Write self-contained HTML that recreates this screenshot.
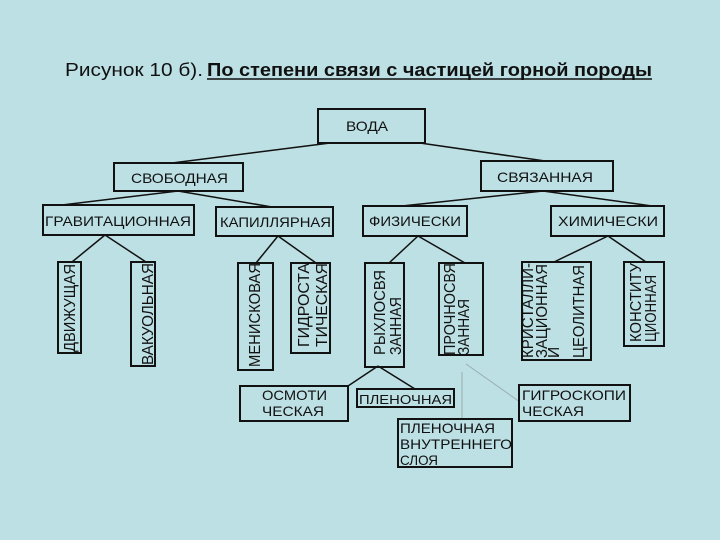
<!DOCTYPE html>
<html><head><meta charset="utf-8"><style>
html,body{margin:0;padding:0;background:#bde0e4;}
svg{display:block;}
text{font-family:"Liberation Sans",sans-serif;fill:#111;}
</style></head><body>
<svg width="720" height="540" viewBox="0 0 720 540" xmlns="http://www.w3.org/2000/svg">
<rect width="720" height="540" fill="#bde0e4"/>
<text x="65" y="76" font-size="18" textLength="138" lengthAdjust="spacingAndGlyphs">Рисунок 10 б).</text>
<text x="207" y="76" font-size="18" font-weight="bold" textLength="445" lengthAdjust="spacingAndGlyphs">По степени связи с частицей горной породы</text>
<line x1="207" y1="79" x2="652" y2="79" stroke="#111" stroke-width="1.5"/>

<g stroke="#111" stroke-width="1.5" fill="none">
<line x1="330" y1="143" x2="172" y2="163"/>
<line x1="420" y1="143" x2="545" y2="161"/>
<line x1="178" y1="191" x2="62" y2="205"/>
<line x1="178" y1="191" x2="272" y2="207"/>
<line x1="543" y1="191" x2="402" y2="206"/>
<line x1="543" y1="191" x2="652" y2="206"/>
<line x1="105" y1="235" x2="72" y2="262"/>
<line x1="105" y1="235" x2="146" y2="262"/>
<line x1="278" y1="236" x2="256" y2="263"/>
<line x1="278" y1="236" x2="316" y2="263"/>
<line x1="418" y1="236" x2="389" y2="263"/>
<line x1="418" y1="236" x2="465" y2="263"/>
<line x1="608" y1="236" x2="554" y2="262"/>
<line x1="608" y1="236" x2="646" y2="262"/>
<line x1="378" y1="366" x2="348" y2="386"/>
<line x1="378" y1="366" x2="415" y2="389"/>
</g>
<g stroke="#9aaeb0" stroke-width="1" fill="none">
<line x1="462" y1="372" x2="462" y2="419"/>
<line x1="466" y1="364" x2="520" y2="402"/>
</g>

<g stroke="#111" stroke-width="2" fill="none">
<rect x="318" y="109" width="107" height="34"/>
<rect x="114" y="163" width="129" height="28"/>
<rect x="481" y="161" width="132" height="30"/>
<rect x="43" y="205" width="151" height="30"/>
<rect x="216" y="207" width="117" height="29"/>
<rect x="363" y="206" width="104" height="30"/>
<rect x="551" y="206" width="113" height="30"/>
<rect x="58" y="262" width="23" height="91"/>
<rect x="131" y="262" width="24" height="104"/>
<rect x="238" y="263" width="35" height="107"/>
<rect x="291" y="263" width="39" height="90"/>
<rect x="365" y="263" width="39" height="104"/>
<rect x="439" y="263" width="44" height="92"/>
<rect x="522" y="262" width="69" height="98"/>
<rect x="624" y="262" width="40" height="84"/>
<rect x="240" y="386" width="108" height="35"/>
<rect x="357" y="389" width="97" height="18"/>
<rect x="519" y="385" width="111" height="36"/>
<rect x="398" y="419" width="114" height="48"/>
</g>

<g font-size="14">
<text x="346" y="131" textLength="42" lengthAdjust="spacingAndGlyphs">ВОДА</text>
<text x="131" y="183" textLength="97" lengthAdjust="spacingAndGlyphs">СВОБОДНАЯ</text>
<text x="497" y="182" textLength="96" lengthAdjust="spacingAndGlyphs">СВЯЗАННАЯ</text>
<text x="45" y="226" textLength="146" lengthAdjust="spacingAndGlyphs">ГРАВИТАЦИОННАЯ</text>
<text x="220" y="227" textLength="111" lengthAdjust="spacingAndGlyphs">КАПИЛЛЯРНАЯ</text>
<text x="369" y="226" textLength="92" lengthAdjust="spacingAndGlyphs">ФИЗИЧЕСКИ</text>
<text x="558" y="226" textLength="100" lengthAdjust="spacingAndGlyphs">ХИМИЧЕСКИ</text>
</g>
<g font-size="15.5">
<text transform="translate(75,352) rotate(-90)" textLength="88" lengthAdjust="spacingAndGlyphs">ДВИЖУЩАЯ</text>
<text transform="translate(153,365) rotate(-90)" textLength="102" lengthAdjust="spacingAndGlyphs">ВАКУОЛЬНАЯ</text>
<text transform="translate(260,367) rotate(-90)" textLength="104" lengthAdjust="spacingAndGlyphs">МЕНИСКОВАЯ</text>
<text transform="translate(309,347) rotate(-90)" textLength="84" lengthAdjust="spacingAndGlyphs">ГИДРОСТА</text>
<text transform="translate(327,347) rotate(-90)" textLength="84" lengthAdjust="spacingAndGlyphs">ТИЧЕСКАЯ</text>
<text transform="translate(385,355) rotate(-90)" textLength="85" lengthAdjust="spacingAndGlyphs">РЫХЛОСВЯ</text>
<text transform="translate(401,355) rotate(-90)" textLength="58" lengthAdjust="spacingAndGlyphs">ЗАННАЯ</text>
<text transform="translate(455,355) rotate(-90)" textLength="92" lengthAdjust="spacingAndGlyphs">ПРОЧНОСВЯ</text>
<text transform="translate(469,355) rotate(-90)" textLength="56" lengthAdjust="spacingAndGlyphs">ЗАННАЯ</text>
<text transform="translate(533,358) rotate(-90)" textLength="95" lengthAdjust="spacingAndGlyphs">КРИСТАЛЛИ-</text>
<text transform="translate(547,358) rotate(-90)" textLength="94" lengthAdjust="spacingAndGlyphs">ЗАЦИОННАЯ</text>
<text transform="translate(559,358) rotate(-90)">И</text>
<text transform="translate(584,358) rotate(-90)" textLength="93" lengthAdjust="spacingAndGlyphs">ЦЕОЛИТНАЯ</text>
<text transform="translate(641,342) rotate(-90)" textLength="79" lengthAdjust="spacingAndGlyphs">КОНСТИТУ</text>
<text transform="translate(656,342) rotate(-90)" textLength="67" lengthAdjust="spacingAndGlyphs">ЦИОННАЯ</text>
</g>
<g font-size="14">
<text x="262" y="400" textLength="65" lengthAdjust="spacingAndGlyphs">ОСМОТИ</text>
<text x="262" y="416" textLength="62" lengthAdjust="spacingAndGlyphs">ЧЕСКАЯ</text>
<text x="359" y="404" font-size="13" textLength="93" lengthAdjust="spacingAndGlyphs">ПЛЕНОЧНАЯ</text>
<text x="522" y="400" textLength="104" lengthAdjust="spacingAndGlyphs">ГИГРОСКОПИ</text>
<text x="522" y="416" textLength="62" lengthAdjust="spacingAndGlyphs">ЧЕСКАЯ</text>
<text x="400" y="433" textLength="95" lengthAdjust="spacingAndGlyphs">ПЛЕНОЧНАЯ</text>
<text x="400" y="449" textLength="112" lengthAdjust="spacingAndGlyphs">ВНУТРЕННЕГО</text>
<text x="400" y="465" textLength="38" lengthAdjust="spacingAndGlyphs">СЛОЯ</text>
</g>
</svg>
</body></html>
